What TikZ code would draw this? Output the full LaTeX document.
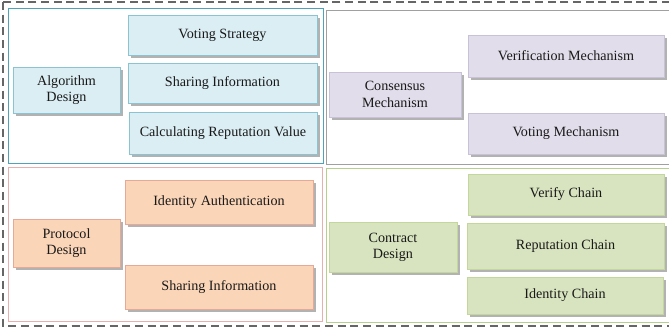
\documentclass[tikz,border=0pt]{standalone}
\usepackage{fontspec}
\setmainfont{Liberation Serif}
\usetikzlibrary{shadows}
\definecolor{tealfill}{HTML}{DBEEF4}
\definecolor{tealline}{HTML}{8CC3D2}
\definecolor{purpfill}{HTML}{E2DDEA}
\definecolor{purpline}{HTML}{C9C1D8}
\definecolor{orfill}{HTML}{FBD5B8}
\definecolor{orline}{HTML}{E8A898}
\definecolor{grfill}{HTML}{D8E4BF}
\definecolor{grline}{HTML}{C3D69B}
\definecolor{qteal}{HTML}{4FA3B8}
\definecolor{qgray}{HTML}{A0A0A0}
\definecolor{qpink}{HTML}{E9AFAF}
\definecolor{qgreen}{HTML}{B5D08A}
\tikzset{
  x=0.75pt, y=-0.75pt,
  box/.style={rectangle, inner sep=2pt, align=center, font=\fontsize{10.6}{12.2}\selectfont, text=black!90,
    drop shadow={shadow xshift=2pt, shadow yshift=-2pt, fill=black, opacity=0.3}},
  bt/.style={box, fill=tealfill, draw=tealline, line width=0.3pt},
  bp/.style={box, fill=purpfill, draw=purpline, line width=0.3pt},
  bo/.style={box, fill=orfill, draw=orline, line width=0.5pt},
  bg/.style={box, fill=grfill, draw=grline, line width=0.3pt},
  quad/.style={line width=0.6pt},
  outer/.style={draw=black!60, line width=0.8pt, dash pattern=on 6pt off 3.5pt}
}
\begin{document}
\begin{tikzpicture}
\useasboundingbox (0,0) rectangle (669,335);
\draw[outer] (3,2) rectangle (690,326);
\draw[quad, draw=qteal] (8,8) rectangle (323,163);
\draw[quad, draw=qgray] (326,10) rectangle (690,164);
\draw[quad, draw=qpink] (8,167) rectangle (322,321);
\draw[quad, draw=qgreen] (326,168) rectangle (690,322);

\node[bt, minimum width=80.25pt, minimum height=34.5pt] (alg) at (66.5,90) {Algorithm\\Design};
\node[bt, minimum width=141.75pt, minimum height=30pt] (vs) at (222.5,35) {Voting Strategy};
\node[bt, minimum width=141.75pt, minimum height=30pt] (si1) at (222.5,83) {Sharing Information};
\node[bt, minimum width=141pt, minimum height=31.5pt] (crv) at (223,133) {Calculating Reputation Value};

\node[bp, minimum width=99pt, minimum height=33.75pt] (cons) at (395,94.5) {Consensus\\Mechanism};
\node[bp, minimum width=147pt, minimum height=31.5pt] (ver) at (566,56) {Verification Mechanism};
\node[bp, minimum width=147pt, minimum height=30.75pt] (vm) at (566,133.5) {Voting Mechanism};

\node[bo, minimum width=80.25pt, minimum height=36pt] (prot) at (66.5,243) {Protocol\\Design};
\node[bo, minimum width=141pt, minimum height=33pt] (ida) at (219,202) {Identity Authentication};
\node[bo, minimum width=141pt, minimum height=33pt] (si2) at (219,287) {Sharing Information};

\node[bg, minimum width=96pt, minimum height=37.5pt] (con) at (393,247) {Contract\\Design};
\node[bg, minimum width=147pt, minimum height=30.75pt] (vc) at (566,194.5) {Verify Chain};
\node[bg, minimum width=147.75pt, minimum height=34.5pt] (rc) at (565.5,246) {Reputation Chain};
\node[bg, minimum width=147pt, minimum height=27.75pt] (ic) at (565,295.5) {Identity Chain};
\end{tikzpicture}
\end{document}
